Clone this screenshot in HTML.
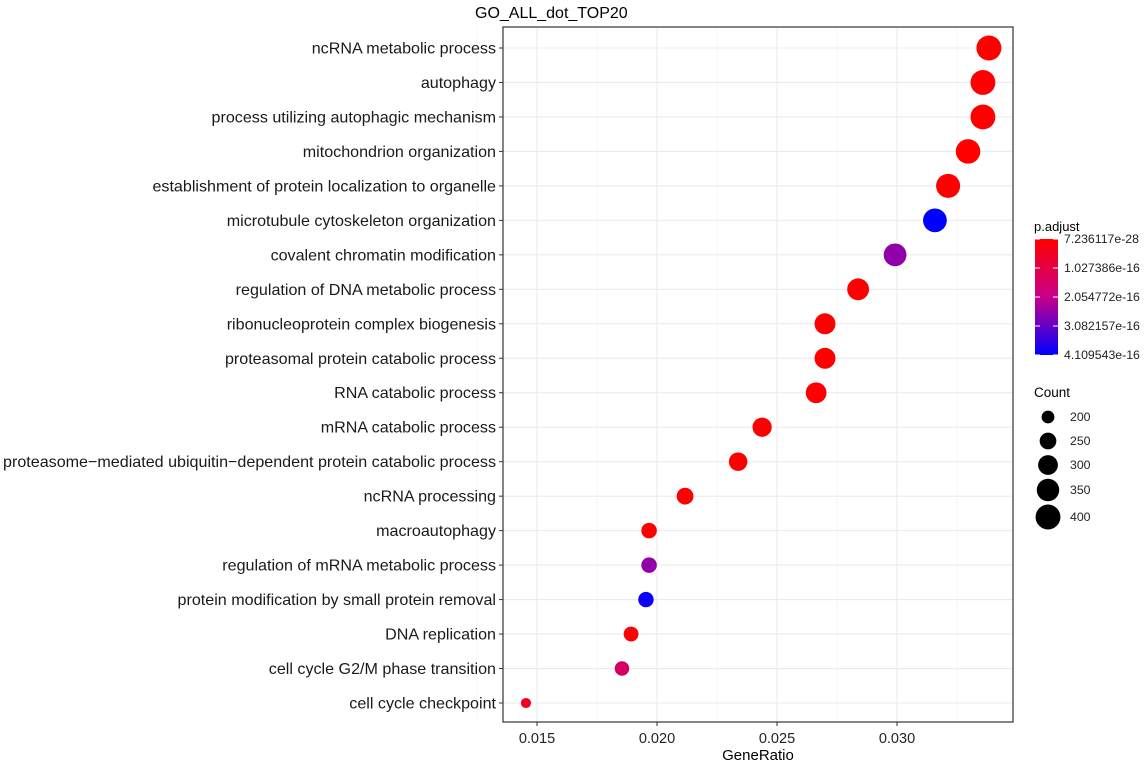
<!DOCTYPE html>
<html><head><meta charset="utf-8"><style>
body{margin:0;background:#fff;font-family:"Liberation Sans",sans-serif;}
svg text{font-family:"Liberation Sans",sans-serif;}
</style></head><body>
<svg id="chart" width="1145" height="763" xmlns="http://www.w3.org/2000/svg">
<defs><linearGradient id="pg" x1="0" y1="0" x2="0" y2="1">
<stop offset="0" stop-color="#ff0000"/><stop offset="0.5" stop-color="#c8008a"/><stop offset="1" stop-color="#0000ff"/></linearGradient></defs>
<text x="475" y="18" font-size="16">GO_ALL_dot_TOP20</text>
<rect x="503" y="27" width="510" height="695" fill="#fff"/>
<g id="grid"></g><g id="dots"></g><g id="ylab"></g><g id="xlab"></g>
<rect x="503" y="27" width="510" height="695" fill="none" stroke="#333" stroke-width="1.2"/>
<text x="758" y="760" font-size="15" text-anchor="middle">GeneRatio</text>
<g>
<text x="1034" y="231" font-size="13">p.adjust</text>
<rect x="1035" y="239" width="23" height="116" fill="url(#pg)"/>
<g id="cleg"></g>
</g>
<g>
<text x="1034" y="397" font-size="13.5">Count</text>
<g id="sleg"></g>
</g>
</svg>
<script>
const terms=["ncRNA metabolic process","autophagy","process utilizing autophagic mechanism","mitochondrion organization","establishment of protein localization to organelle","microtubule cytoskeleton organization","covalent chromatin modification","regulation of DNA metabolic process","ribonucleoprotein complex biogenesis","proteasomal protein catabolic process","RNA catabolic process","mRNA catabolic process","proteasome\u2212mediated ubiquitin\u2212dependent protein catabolic process","ncRNA processing","macroautophagy","regulation of mRNA metabolic process","protein modification by small protein removal","DNA replication","cell cycle G2/M phase transition","cell cycle checkpoint"];
const geneRatio=[0.03383,0.03358,0.03358,0.03296,0.03213,0.03158,0.02992,0.02838,0.0270,0.0270,0.02663,0.02438,0.02338,0.02117,0.01967,0.01967,0.01954,0.01892,0.01854,0.01454];
const counts=[402,399,399,392,382,376,356,338,321,321,317,290,278,252,234,234,232,225,220,173];
const padj=[1e-28,1e-27,1e-27,1e-26,1e-25,4.1e-16,2.6e-16,1e-24,1e-24,1e-24,1e-24,1e-23,1e-22,1e-21,1e-20,2.6e-16,4.0e-16,2e-18,1.5e-16,0.5e-16];
const xTicks=[0.015,0.020,0.025,0.030];
const xTickLabels=["0.015","0.020","0.025","0.030"];
const pTicks=[7.236117e-28,1.027386e-16,2.054772e-16,3.082157e-16,4.109543e-16];
const pTickLabels=["7.236117e-28","1.027386e-16","2.054772e-16","3.082157e-16","4.109543e-16"];
const sizeLegend=[200,250,300,350,400];

const NS="http://www.w3.org/2000/svg";
const X=v=>537+(v-0.015)*24000;
const Y=i=>48+i*(703-48)/19;
const R=c=>Math.sqrt(Math.max(4,-73+0.57*c));
const pMax=4.109543e-16;
function col(p){const t=Math.min(1,Math.max(0,p/pMax));
 let r,g,b; if(t<0.5){const u=t/0.5;r=255-55*u;g=0;b=138*u;}else{const u=(t-0.5)/0.5;r=200*(1-u);g=0;b=138+117*u;}
 return `rgb(${r|0},${g|0},${b|0})`;}
function mk(tag,at,parent){const e=document.createElementNS(NS,tag);for(const k in at)e.setAttribute(k,at[k]);document.getElementById(parent).appendChild(e);return e;}
for(let v=0.0125;v<=0.0345;v+=0.005){const l=mk('line',{x1:X(v),x2:X(v),y1:27,y2:722,stroke:'#f5f5f5','stroke-width':0.8},'grid');

}
xTicks.forEach((v,i)=>{const l=mk('line',{x1:X(v),x2:X(v),y1:27,y2:722,stroke:'#ebebeb','stroke-width':1.1},'grid');


const t=mk('line',{x1:X(v),x2:X(v),y1:722,y2:726,stroke:'#333'},'xlab');


const tx=mk('text',{x:X(v),y:743,'font-size':14.5,'text-anchor':'middle',fill:'#222'},'xlab');tx.textContent=xTickLabels[i];

});
terms.forEach((s,i)=>{const y=Y(i);
const g=mk('line',{x1:503,x2:1013,y1:y,y2:y,stroke:'#ebebeb','stroke-width':1.1},'grid');


const t=mk('line',{x1:499,x2:503,y1:y,y2:y,stroke:'#333'},'ylab');


const tx=mk('text',{x:496,y:y+5.5,'font-size':16.1,'text-anchor':'end',fill:'#1a1a1a'},'ylab');tx.textContent=s;


const c=mk('circle',{cx:X(geneRatio[i]),cy:y,r:R(counts[i]),fill:col(padj[i])},'dots');

});
pTicks.forEach((p,i)=>{const y=239+116*p/pMax;
const a=mk('line',{x1:1035,x2:1040,y1:y,y2:y,stroke:'#fff'},'cleg');


const b=mk('line',{x1:1053,x2:1058,y1:y,y2:y,stroke:'#fff'},'cleg');


const tx=mk('text',{x:1064,y:y+4,'font-size':12.3,fill:'#222'},'cleg');tx.textContent=pTickLabels[i];

});
const sy=[417,441,465,490,517];
sizeLegend.forEach((c,i)=>{const e=mk('circle',{cx:1048,cy:sy[i],r:R(c),fill:'#000'},'sleg');


const tx=mk('text',{x:1070,y:sy[i]+4,'font-size':12.3,fill:'#222'},'sleg');tx.textContent=c;

});
</script>
</body></html>
